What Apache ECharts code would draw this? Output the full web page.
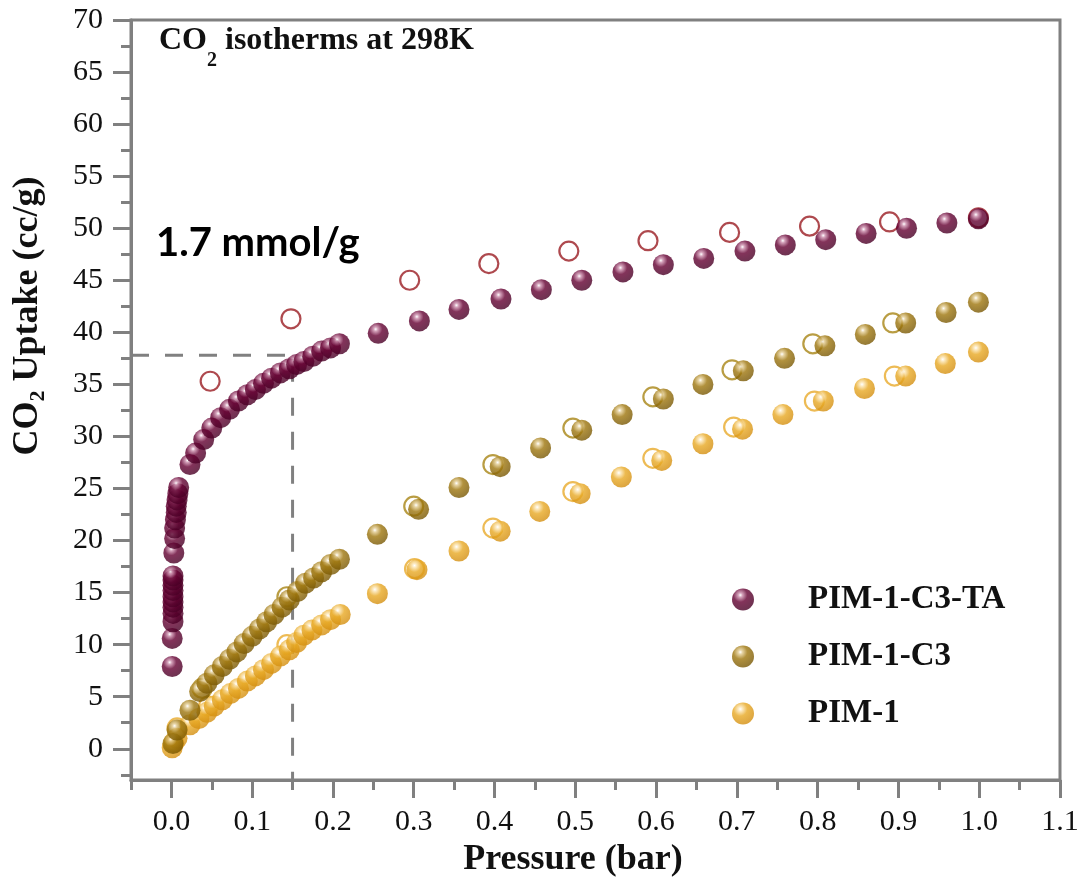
<!DOCTYPE html>
<html>
<head>
<meta charset="utf-8">
<script src="https://cdn.jsdelivr.net/npm/echarts@6/dist/echarts.min.js"></script>
<style>
  html, body { margin: 0; padding: 0; background: #fff; }
  #chart { width: 1081px; height: 888px; }
</style>
</head>
<body>
<div id="chart"></div>
<script>
  // ---- data: [pressure (bar), uptake (cc/g)] ----
  var taAds = [
    [0.001, 7.9], [0.001, 10.6], [0.002, 12.2], [0.002, 13.0], [0.002, 13.6], [0.002, 14.1],
    [0.002, 14.6], [0.002, 15.2], [0.002, 15.7], [0.002, 16.2], [0.002, 16.6], [0.003, 18.8],
    [0.004, 20.2], [0.004, 21.2], [0.005, 22.0], [0.006, 22.7], [0.006, 23.3], [0.007, 23.9],
    [0.008, 24.5], [0.009, 25.1],
    [0.023, 27.3], [0.030, 28.4], [0.040, 29.7], [0.050, 30.8], [0.061, 31.8], [0.072, 32.6],
    [0.083, 33.4], [0.094, 34.0], [0.104, 34.5], [0.114, 35.1], [0.124, 35.6], [0.135, 36.1],
    [0.146, 36.5], [0.155, 36.9], [0.164, 37.2], [0.175, 37.7], [0.186, 38.2], [0.197, 38.5],
    [0.208, 38.9],
    [0.256, 39.9], [0.307, 41.1], [0.356, 42.2], [0.408, 43.2], [0.458, 44.1], [0.508, 45.0],
    [0.559, 45.8], [0.609, 46.5], [0.659, 47.1], [0.710, 47.8], [0.760, 48.4], [0.810, 48.9],
    [0.860, 49.5], [0.910, 50.0], [0.960, 50.5], [0.999, 50.9]
  ];
  var taDes = [
    [0.048, 35.3], [0.148, 41.3], [0.295, 45.0], [0.393, 46.6], [0.492, 47.8], [0.590, 48.8],
    [0.691, 49.6], [0.790, 50.2], [0.889, 50.6], [0.999, 51.0]
  ];
  var c3Ads = [
    [0.002, 0.5], [0.007, 1.8], [0.023, 3.7], [0.035, 5.5], [0.044, 6.3], [0.053, 7.1],
    [0.063, 7.9], [0.072, 8.6], [0.081, 9.3], [0.090, 10.1], [0.100, 10.8], [0.109, 11.5],
    [0.118, 12.2], [0.127, 12.9], [0.137, 13.6], [0.146, 14.3], [0.156, 15.1], [0.166, 15.9],
    [0.176, 16.4], [0.186, 17.0], [0.197, 17.7], [0.208, 18.2],
    [0.255, 20.6], [0.306, 23.0], [0.356, 25.1], [0.407, 27.1], [0.457, 28.9], [0.508, 30.6],
    [0.558, 32.1], [0.609, 33.6], [0.658, 35.0], [0.708, 36.3], [0.759, 37.5], [0.809, 38.7],
    [0.859, 39.8], [0.909, 40.9], [0.959, 41.9], [0.999, 42.9]
  ];
  var c3Des = [
    [0.038, 5.8], [0.143, 14.6], [0.300, 23.3], [0.398, 27.3], [0.497, 30.8], [0.596, 33.8],
    [0.694, 36.4], [0.794, 38.9], [0.893, 40.9]
  ];
  var pimAds = [
    [0.001, 0.1], [0.003, 0.6], [0.007, 1.0], [0.023, 2.3], [0.034, 2.9], [0.044, 3.5],
    [0.053, 4.1], [0.063, 4.7], [0.073, 5.3], [0.083, 5.8], [0.094, 6.5], [0.104, 7.0],
    [0.114, 7.6], [0.124, 8.2], [0.135, 8.9], [0.146, 9.5], [0.155, 10.2], [0.164, 10.9],
    [0.174, 11.4], [0.186, 11.9], [0.197, 12.4], [0.209, 12.9],
    [0.255, 14.9], [0.304, 17.2], [0.356, 19.0], [0.407, 20.9], [0.456, 22.8], [0.506, 24.5],
    [0.557, 26.1], [0.607, 27.7], [0.658, 29.3], [0.707, 30.7], [0.757, 32.1], [0.807, 33.4],
    [0.858, 34.6], [0.909, 35.8], [0.958, 37.0], [0.999, 38.1]
  ];
  var pimDes = [
    [0.007, 2.0], [0.046, 4.1], [0.143, 10.0], [0.301, 17.3], [0.398, 21.2], [0.497, 24.7],
    [0.596, 27.9], [0.696, 30.9], [0.796, 33.4], [0.895, 35.8]
  ];
  // dashed guide at 0.15 bar
  var guide = [[-0.05, 37.8], [0.15, 37.8], [0.15, -3]];

  var seriesNames = ['PIM-1-C3-TA', 'PIM-1-C3', 'PIM-1'];
  var xTicks = [0.0, 0.1, 0.2, 0.3, 0.4, 0.5, 0.6, 0.7, 0.8, 0.9, 1.0, 1.1];
  var xMinor = [-0.05, 0.05, 0.15, 0.25, 0.35, 0.45, 0.55, 0.65, 0.75, 0.85, 0.95, 1.05];
  var yTicks = [0, 5, 10, 15, 20, 25, 30, 35, 40, 45, 50, 55, 60, 65, 70];
  var yMinor = [-2.5, 2.5, 7.5, 12.5, 17.5, 22.5, 27.5, 32.5, 37.5, 42.5, 47.5, 52.5, 57.5, 62.5, 67.5];

  var serif = 'Liberation Serif';
  var gray = '#808080';
  var tickText = { t: { fontFamily: serif, fontSize: 30, color: '#111' } };

  // shiny bead look
  function bead(light, base, dark) {
    return {
      type: 'radial', x: 0.38, y: 0.3, r: 0.7,
      colorStops: [
        { offset: 0, color: '#ffffff' },
        { offset: 0.14, color: light },
        { offset: 0.45, color: base },
        { offset: 1, color: dark }
      ]
    };
  }

  function filled(name, data, fill) {
    return {
      name: name, type: 'scatter', data: data, symbol: 'circle', symbolSize: 21, z: 4,
      itemStyle: { color: fill }, emphasis: { disabled: true }
    };
  }
  function open(data, edge) {
    return {
      type: 'scatter', data: data, symbol: 'circle', symbolSize: 19, z: 3,
      itemStyle: { color: 'rgba(255,255,255,0)', borderColor: edge, borderWidth: 2.2 },
      emphasis: { disabled: true }
    };
  }

  var chart = echarts.init(document.getElementById('chart'));
  chart.setOption({
    animation: false,
    backgroundColor: '#fff',
    textStyle: { fontFamily: serif },
    grid: {
      left: 131, right: 21, top: 20, bottom: 108,
      show: true, borderColor: gray, borderWidth: 3,
      outerBoundsMode: 'none'
    },
    legend: {
      data: seriesNames,
      orient: 'vertical', left: 727, top: 578,
      itemWidth: 22, itemHeight: 22, itemGap: 24,
      icon: 'circle',
      textStyle: { fontFamily: serif, fontSize: 33, fontWeight: 'bold', color: '#111', padding: [0, 0, 0, 49] }
    },
    xAxis: [{
      type: 'value', min: -0.05, max: 1.1,
      axisLine: { onZero: false, lineStyle: { color: gray, width: 3 } },
      axisTick: { customValues: xTicks, length: 18, lineStyle: { color: gray, width: 3 } },
      axisLabel: {
        customValues: xTicks, margin: 27, fontFamily: serif, fontSize: 30, color: '#111',
        rich: tickText,
        formatter: function (v) { return '{t|' + v.toFixed(1) + '}'; }
      },
      splitLine: { show: false }
    }, {
      type: 'value', min: -0.05, max: 1.1, position: 'bottom',
      axisLine: { show: false, onZero: false },
      axisTick: { customValues: xMinor, length: 10, lineStyle: { color: gray, width: 3 } },
      axisLabel: { show: false },
      splitLine: { show: false }
    }],
    yAxis: [{
      type: 'value', min: -3, max: 70,
      axisLine: { show: true, onZero: false, lineStyle: { color: gray, width: 3 } },
      axisTick: { show: true, customValues: yTicks, length: 18, lineStyle: { color: gray, width: 3 } },
      axisLabel: {
        customValues: yTicks, margin: 28, fontFamily: serif, fontSize: 30, color: '#111',
        rich: tickText,
        formatter: function (v) { return '{t|' + v + '}'; }
      },
      splitLine: { show: false }
    }, {
      type: 'value', min: -3, max: 70, position: 'left',
      axisLine: { show: false, onZero: false },
      axisTick: { show: true, customValues: yMinor, length: 10, lineStyle: { color: gray, width: 3 } },
      axisLabel: { show: false },
      splitLine: { show: false }
    }],
    graphic: [
      {
        type: 'text', left: 159, top: 25, z: 10,
        style: {
          text: '{a|CO}{s|2}{a| isotherms at 298K}',
          rich: {
            a: { fontFamily: serif, fontSize: 32, fontWeight: 'bold', fill: '#111', lineHeight: 36, verticalAlign: 'top' },
            s: { fontFamily: serif, fontSize: 20, fontWeight: 'bold', fill: '#111', lineHeight: 20, verticalAlign: 'top', padding: [26, 0, 0, 0] }
          }
        }
      },
      {
        type: 'text', left: 156, top: 223, z: 10,
        style: { text: '1.7 mmol/g', fontFamily: 'Lato', fontSize: 40, fontWeight: 'bold', fill: '#000' }
      },
      {
        type: 'text', x: 573, y: 860, z: 10,
        style: {
          text: 'Pressure (bar)', align: 'center', verticalAlign: 'middle',
          fontFamily: serif, fontSize: 36, fontWeight: 'bold', fill: '#111'
        }
      },
      {
        type: 'text', x: 30, y: 316, rotation: Math.PI / 2, z: 10,
        style: {
          text: '{a|CO}{s|2}{a| Uptake (cc/g)}', align: 'center', verticalAlign: 'middle',
          rich: {
            a: { fontFamily: serif, fontSize: 36, fontWeight: 'bold', fill: '#111', lineHeight: 40, verticalAlign: 'top' },
            s: { fontFamily: serif, fontSize: 22, fontWeight: 'bold', fill: '#111', lineHeight: 22, verticalAlign: 'top', padding: [17, 0, 0, 0] }
          }
        }
      }
    ],
    series: [
      {
        type: 'line', data: guide, symbol: 'none', z: 2, silent: true,
        lineStyle: { color: gray, width: 3, type: [18, 16] }
      },
      open(pimDes, '#e9aa2a'),
      open(c3Des, '#a88414'),
      open(taDes, '#9a1c22'),
      filled('PIM-1', pimAds, bead('#fbe3ae', '#e8a924', '#d48f10')),
      filled('PIM-1-C3', c3Ads, bead('#e0c98e', '#9e760d', '#7a5904')),
      filled('PIM-1-C3-TA', taAds, bead('#c98aa9', '#640031', '#4a0026'))
    ]
  });
</script>
</body>
</html>
